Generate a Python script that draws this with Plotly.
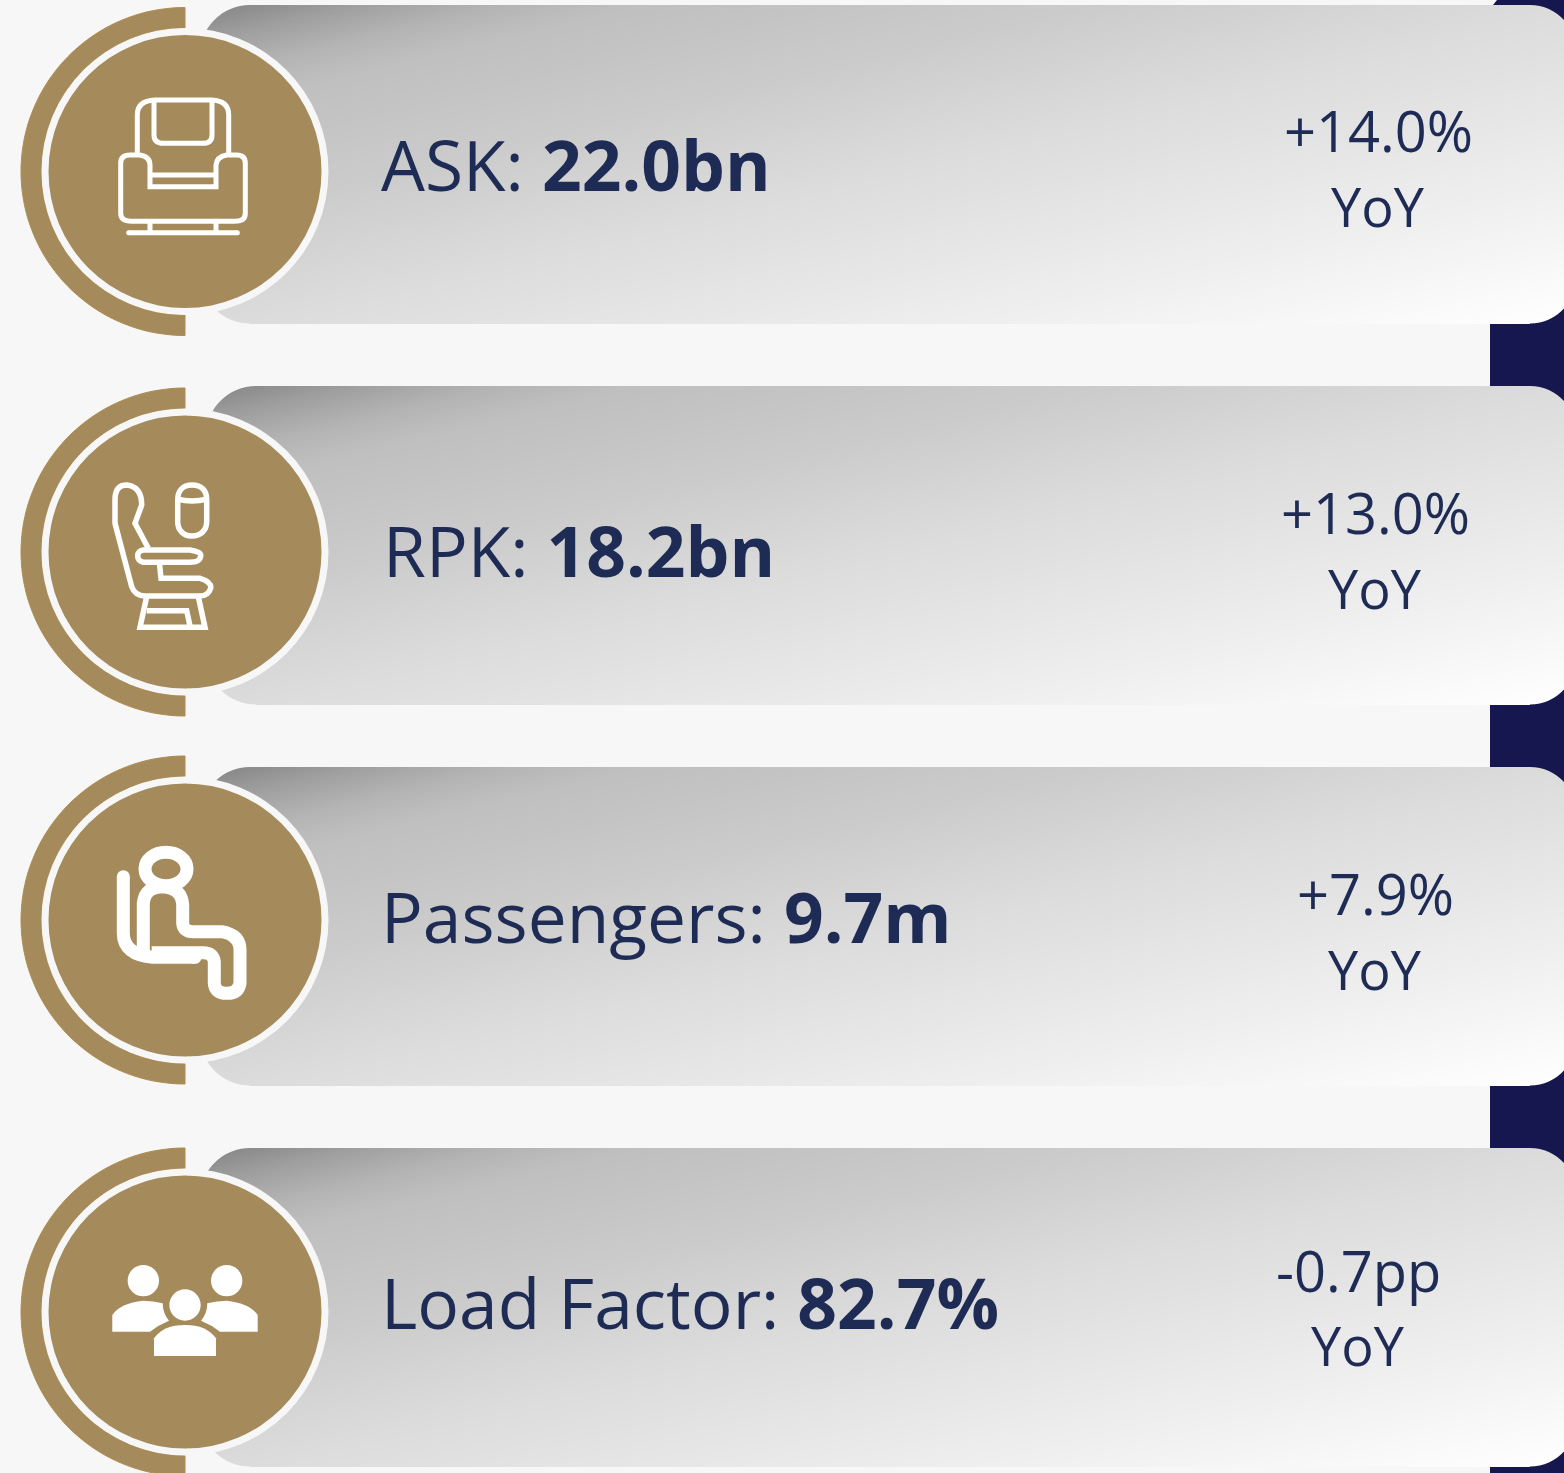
import numpy as np
import plotly.graph_objects as go

# ---- content
metric_names = ["ASK", "RPK", "Passengers", "Load Factor"]
metric_values = ["22.0bn", "18.2bn", "9.7m", "82.7%"]
yoy_changes = ["+14.0%", "+13.0%", "+7.9%", "-0.7pp"]
yoy_word = "YoY"

# ---- layout constants
W, H = 1564, 1473
BG, NAVY, GOLD, GOLD_EDGE, INK = "#f7f7f7", "#15174e", "#a58b5c", "#b08d4f", "#1e2c55"
card_tops = [5, 386, 767, 1148]
card_lefts = [200, 206, 200, 200]
card_h = 318.5
circle_ys = [171.5, 552, 920, 1312]
label_xy = [(379, 164), (381, 550), (379, 916), (379, 1302)]
yoy_xy = [(1378, 130, 206), (1375, 512, 588), (1375, 893, 969), (1358, 1270, 1345)]
CARD_L, CARD_R = 200, 1576
RL, RR = 50, 46
CX = 185
gradient_stops = [[0, "#888888"], [0.02, "#8c8c8c"], [0.056, "#9e9e9e"], [0.11, "#b3b3b3"], [0.16, "#bfbfbf"],
                  [0.33, "#cbcbcb"], [0.5, "#dbdbdb"], [0.8, "#f0f0f0"], [1, "#ffffff"]]

fig = go.Figure()
shapes = []

# navy strip behind the cards
shapes.append(dict(type="path", layer="below", fillcolor=NAVY, line_width=0,
                   path=f"M 1497 0 L 1564 0 L 1564 {H} L 1490 {H} L 1490 5 L 1493 5 Z"))

# gradient cards (painted area only; not chart data)
theta = np.arctan(0.24)
x_edges = np.arange(CARD_L, 1569, 4.0)
y_edges = np.append(np.arange(0, card_h, 2.0), card_h)
XX, YY = np.meshgrid(x_edges[:-1] + 2 - CARD_L, y_edges[:-1] + 1)
span = 1364 * np.sin(theta) + card_h * np.cos(theta)
Z = ((XX * np.sin(theta) + YY * np.cos(theta)) / span).astype("float32")
for top in card_tops:
    fig.add_trace(go.Heatmap(x=x_edges, y=y_edges + top, z=Z, zmin=0, zmax=1, colorscale=gradient_stops,
                             showscale=False, hoverinfo="skip", zsmooth=False))


def rounded_covers(top, l):
    k = 0.5523
    b = top + card_h
    out = []
    r = CARD_R
    cl, cr = RL * (1 - k), RR * (1 - k)
    e = CARD_L - 3
    # left corners in page colour
    out.append((BG, f"M {e} {top-3} L {l+RL} {top-3} L {l+RL} {top} C {l+cl} {top} {l} {top+cl} {l} {top+RL} L {e} {top+RL} Z"))
    out.append((BG, f"M {e} {b+3} L {l+RL} {b+3} L {l+RL} {b} C {l+cl} {b} {l} {b-cl} {l} {b-RL} L {e} {b-RL} Z"))
    if l > CARD_L:
        out.append((BG, f"M {e} {top+RL-1} L {l} {top+RL-1} L {l} {b-RL+1} L {e} {b-RL+1} Z"))
    # right corners in navy
    out.append((NAVY, f"M {r+1} {top-1} L {r-RR} {top-1} L {r-RR} {top} C {r-cr} {top} {r} {top+cr} {r} {top+RR} L {r+1} {top+RR} Z"))
    out.append((NAVY, f"M {r+1} {b+1} L {r-RR} {b+1} L {r-RR} {b} C {r-cr} {b} {r} {b-cr} {r} {b-RR} L {r+1} {b-RR} Z"))
    return out


for top, left in zip(card_tops, card_lefts):
    for col, p in rounded_covers(top, left):
        shapes.append(dict(type="path", path=p, fillcolor=col, line_width=0))


def arc(cx, cy, r, a0, a1, n=80):
    t = np.radians(np.linspace(a0, a1, n))
    return [(cx + r * np.cos(a), cy + r * np.sin(a)) for a in t]


def poly(pts):
    return "M " + " L ".join(f"{x:.1f} {y:.1f}" for x, y in pts) + " Z"


def circle(cx, cy, r, fill):
    return dict(type="circle", x0=cx - r, x1=cx + r, y0=cy - r, y1=cy + r, fillcolor=fill, line_width=0)


for cy in circle_ys:
    outer = arc(CX, cy, 164, 90, 270)
    inner = arc(CX, cy, 143.5, 270, 90)
    shapes.append(dict(type="path", path=poly(outer + inner), fillcolor=GOLD, line=dict(color=GOLD_EDGE, width=1)))
    shapes.append(circle(CX, cy, 143.5, BG))
    shapes.append(circle(CX, cy, 136.5, GOLD))


def icon_path(d, ox, oy, s=1 / 3):
    """Scale a hand-traced icon outline into page coordinates."""
    out, is_x = [], True
    for tok in d.split():
        if tok.isalpha():
            out.append(tok)
            is_x = True
        else:
            v = float(tok) * s + (ox if is_x else oy)
            out.append(f"{v:.1f}")
            is_x = not is_x
    return " ".join(out)


def stroke(d, ox, oy, w):
    shapes.append(dict(type="path", path=icon_path(d, ox, oy), fillcolor="rgba(0,0,0,0)",
                       line=dict(color="white", width=w)))


def solid(d, ox, oy):
    shapes.append(dict(type="path", path=icon_path(d, ox, oy), fillcolor="white", line_width=0))


def dot(x, y, r, ox, oy):
    shapes.append(circle(ox + x / 3, oy + y / 3, r, "white"))


# armchair
o = (0, 0)
for d in [
    "M 412 460 L 412 345 Q 412 302 465 300 L 635 300 Q 686 302 686 345 L 686 460",
    "M 462 305 L 462 405 Q 462 430 490 430 L 610 430 Q 636 430 636 405 L 636 305",
    "M 362 490 Q 362 465 390 465 L 420 465 Q 450 470 450 495 L 450 560 L 648 560 L 648 495 Q 650 470 680 465 L 710 465 Q 736 465 736 490 L 736 640 Q 736 664 705 664 L 395 664 Q 362 664 362 640 Z",
    "M 450 525 L 648 525",
    "M 450 664 L 450 698", "M 648 664 L 648 698",
    "M 386 698 L 712 698",
]:
    stroke(d, *o, 5)
dot(386, 698, 2.5, *o)
dot(712, 698, 2.5, *o)

# aircraft seat and window
o = (90, 470)
for d in [
    "M 208 275 L 213 325 L 330 325 Q 365 335 362 355 Q 355 378 330 378 L 165 378 Q 135 378 125 350 L 75 160 L 75 90 Q 75 45 110 45 Q 155 50 155 105 L 135 160 L 175 235",
    "M 160 240 L 300 240 Q 335 245 332 258 Q 330 277 300 277 L 160 277 Q 143 272 143 258 Q 143 243 160 240 Z",
    "M 306 45 C 335 45 350 62 350 90 L 350 155 C 350 180 332 198 306 198 C 280 198 263 180 263 155 L 263 90 C 263 62 278 45 306 45 Z",
    "M 263 88 Q 306 98 350 88",
    "M 170 380 L 150 472 L 345 472 L 325 380",
    "M 170 422 L 290 422 L 300 468",
]:
    stroke(d, *o, 5.5)

# sitting passenger
o = (90, 830)
for d in [
    "M 228 67 C 263 67 291 89 291 117 C 291 145 263 167 228 167 C 193 167 165 145 165 117 C 165 89 193 67 228 67 Z",
    "M 100 140 L 100 310 Q 100 375 190 382 L 315 382",
    "M 160 380 L 160 220 Q 165 170 220 170 Q 275 175 278 225 L 278 280 Q 280 305 310 305 L 395 305 Q 450 315 450 360 L 450 460 Q 445 490 411 490 Q 375 490 373 460 L 373 395 Q 370 368 340 368 L 185 368",
]:
    stroke(d, *o, 13)
dot(100, 140, 6.5, *o)
dot(315, 382, 6.5, *o)

# three people
o = (90, 1250)
for c in [(160, 92), (410, 92), (285, 165)]:
    dot(c[0], c[1], 47 / 3, *o)
for d in [
    "M 67 245 L 67 195 Q 90 160 160 152 Q 190 152 218 160 Q 218 190 237 212 Q 205 225 180 245 Z",
    "M 503 245 L 503 195 Q 480 160 410 152 Q 380 152 352 160 Q 352 190 333 212 Q 365 225 390 245 Z",
    "M 192 318 L 192 265 Q 220 225 285 225 Q 350 225 378 265 L 378 318 Z",
]:
    solid(d, *o)

annotations = []
for name, val, chg, (lx, ly), (yx, y1, y2) in zip(metric_names, metric_values, yoy_changes, label_xy, yoy_xy):
    annotations.append(dict(x=lx, y=ly, xref="x", yref="y", xanchor="left", yanchor="middle", showarrow=False,
                            text=f"{name}: <b>{val}</b>", font=dict(family="Open Sans", size=69.5, color=INK)))
    annotations.append(dict(x=yx, y=y1, xref="x", yref="y", xanchor="center", yanchor="middle", showarrow=False,
                            text=chg, font=dict(family="Open Sans", size=56, color=INK)))
    annotations.append(dict(x=yx, y=y2, xref="x", yref="y", xanchor="center", yanchor="middle", showarrow=False,
                            text=yoy_word, font=dict(family="Open Sans", size=54, color=INK)))

fig.update_layout(
    width=W, height=H, margin=dict(l=0, r=0, t=0, b=0), showlegend=False,
    paper_bgcolor=BG, plot_bgcolor=BG, shapes=shapes, annotations=annotations,
    xaxis=dict(range=[0, W], visible=False, fixedrange=True),
    yaxis=dict(range=[H, 0], visible=False, fixedrange=True),
)
fig.write_html("out.html", config=dict(displayModeBar=False),
               post_script="document.body.style.margin='0';document.body.style.overflow='hidden';window.dispatchEvent(new Event('resize'));")
